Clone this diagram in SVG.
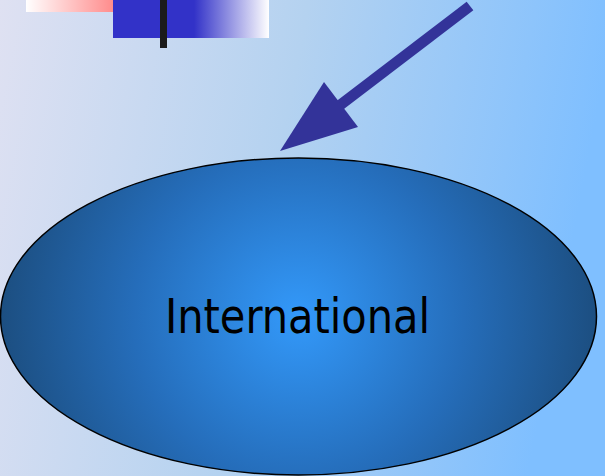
<svg xmlns="http://www.w3.org/2000/svg" width="605" height="476" viewBox="0 0 605 476">
<defs>
<linearGradient id="bg" x1="0" y1="0" x2="1" y2="0.15">
<stop offset="0" stop-color="#dfe1f2"/>
<stop offset="0.5" stop-color="#b4d2f0"/>
<stop offset="1" stop-color="#7fbfff"/>
</linearGradient>
<linearGradient id="pink" x1="0" y1="0" x2="1" y2="0">
<stop offset="0" stop-color="#ffffff"/>
<stop offset="1" stop-color="#ff6262"/>
</linearGradient>
<linearGradient id="blue" x1="0" y1="0" x2="1" y2="0">
<stop offset="0" stop-color="#3232c8"/>
<stop offset="0.52" stop-color="#3232c8"/>
<stop offset="1" stop-color="#ffffff"/>
</linearGradient>
<radialGradient id="ell" gradientUnits="userSpaceOnUse" cx="298.5" cy="316.5" r="300">
<stop offset="0" stop-color="#3399fa"/>
<stop offset="0.55" stop-color="#256dba"/>
<stop offset="1" stop-color="#1c4e80"/>
</radialGradient>
<style>
.lbl{font-family:"DejaVu Sans Condensed","DejaVu Sans",sans-serif;font-stretch:condensed;font-size:48px;fill:#000}
</style>
</defs>
<rect x="0" y="0" width="605" height="476" fill="url(#bg)"/>
<g id="deco">
<rect x="26" y="0" width="119" height="12" fill="url(#pink)"/>
<rect x="113" y="0" width="156" height="38" fill="url(#blue)"/>
<rect x="160" y="0" width="7" height="48" fill="#1b1b1b"/>
</g>
<g id="connectors">
<line x1="470" y1="6" x2="335" y2="109" stroke="#333399" stroke-width="11"/>
<polygon points="280,151 324,82 358,127" fill="#333399"/>
</g>
<g id="node-international">
<ellipse cx="298.5" cy="316.5" rx="298" ry="158.5" fill="url(#ell)" stroke="#000" stroke-width="1.5"/>
<text class="lbl" x="165" y="333" textLength="265" lengthAdjust="spacingAndGlyphs">International</text>
</g>
</svg>
